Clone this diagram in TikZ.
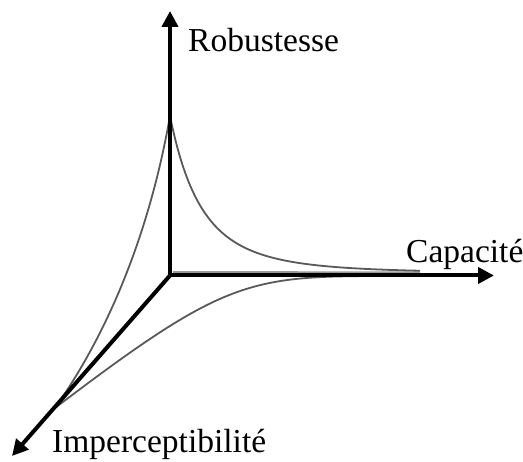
\documentclass[tikz,border=0pt]{standalone}
\usepackage{fontspec}
\setmainfont{Liberation Serif}
\usetikzlibrary{arrows.meta}
\begin{document}
\begin{tikzpicture}[x=1pt,y=-1pt,
  axis/.style={line width=4pt,-{Triangle[length=16pt,width=16pt]}},
  curve/.style={line width=1.8pt,draw=black!65},
  lbl/.style={font=\fontsize{33.5}{38}\selectfont,anchor=base west,inner sep=0pt}]
\useasboundingbox (0,0) rectangle (523,462);
\coordinate (O) at (170,275.5);
\coordinate (R) at (170,11);
\coordinate (C) at (494,275.5);
\coordinate (I) at (12,456);
\coordinate (P) at (170,116);
\coordinate (D) at (55,408);
% gray line along capacity axis
\draw[line width=2pt,draw=black!40] (173,272) -- (420,272.5);
% curves
\draw[curve] (P) .. controls (150,230) and (110,330) .. (D);
\draw[curve] plot[domain=170:420,samples=100,smooth] (\x,{273-157*exp(-3.77*ln(1+(\x-170)/120))});
\draw[curve] (D) .. controls (230,275) and (250,276) .. (400,276);
% axes
\draw[axis] (O) -- (R);
\draw[axis] (O) -- (C);
\draw[axis] (O) -- (I);
\node[lbl] (tR) at (188,52) {Robustesse};
\node[lbl] (tC) at (406,263) {Capacité};
\node[lbl] (tI) at (52,453) {Imperceptibilité};
\end{tikzpicture}
\end{document}
